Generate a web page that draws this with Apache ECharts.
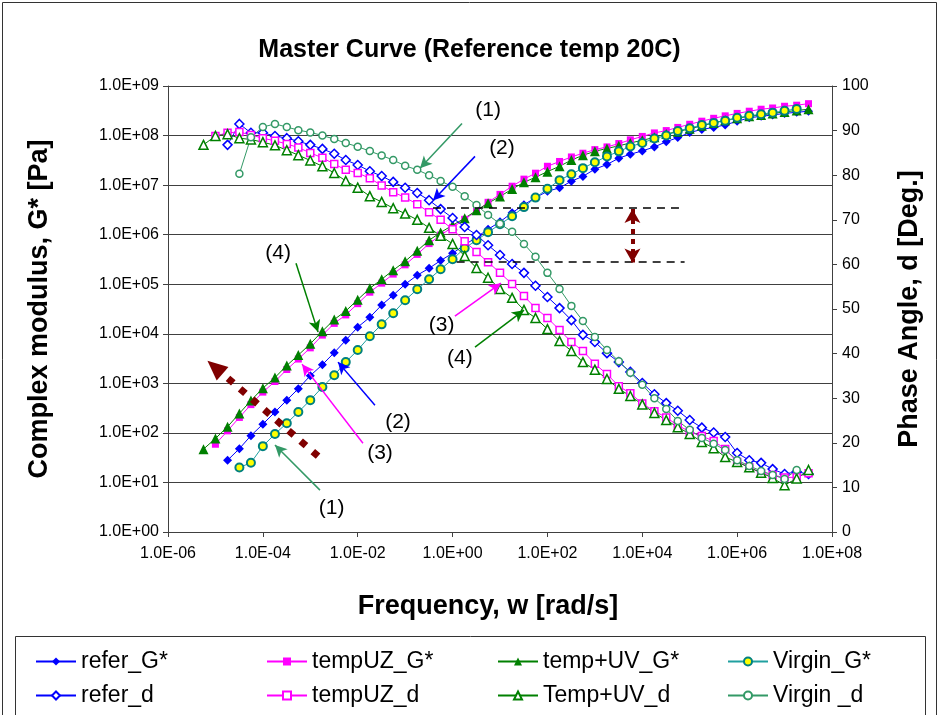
<!DOCTYPE html>
<html>
<head>
<meta charset="utf-8">
<title>Master Curve</title>
<script src="https://cdn.jsdelivr.net/npm/echarts@6/dist/echarts.min.js"></script>
<style>
  html, body { margin: 0; padding: 0; background: #fff; }
  #chart { width: 939px; height: 715px; }
</style>
</head>
<body>
<div id="chart"></div>
<script>
var FONT = 'Liberation Sans, Arial, sans-serif'

// frequency w [rad/s], quarter decade steps 10^-5.25 .. 10^7.5
var freq = [5.6e-6, 1.0e-5, 1.8e-5, 3.2e-5, 5.6e-5, 1.0e-4, 1.8e-4, 3.2e-4, 5.6e-4, 1.0e-3,
  1.8e-3, 3.2e-3, 5.6e-3, 1.0e-2, 1.8e-2, 3.2e-2, 5.6e-2, 0.1, 0.18, 0.32,
  0.56, 1, 1.8, 3.2, 5.6, 10, 18, 32, 56, 100,
  180, 320, 560, 1e3, 1.8e3, 3.2e3, 5.6e3, 1e4, 1.8e4, 3.2e4,
  5.6e4, 1e5, 1.8e5, 3.2e5, 5.6e5, 1e6, 1.8e6, 3.2e6, 5.6e6, 1e7,
  1.8e7, 3.2e7]

// complex modulus G* [Pa]
var referG = [null, null, 28, 48, 88, 150, 263, 458, 780, 1430,
  2380, 4160, 7400, 13600, 21500, 38000, 60000, 1.0e5, 1.52e5, 2.1e5,
  3.0e5, 4.22e5, 6.2e5, 8.9e5, 1.28e6, 1.82e6, 2.77e6, 4.0e6, 5.6e6, 7.5e6,
  8.8e6, 1.2e7, 1.5e7, 2.1e7, 2.6e7, 3.5e7, 4.2e7, 4.9e7, 5.9e7, 7.5e7,
  9.1e7, 1.15e8, 1.33e8, 1.46e8, 1.64e8, 1.94e8, 2.28e8, 2.45e8, 2.6e8, 2.8e8,
  2.95e8, 3.1e8]
var tempUZG = [null, 59, 110, 205, 372, 665, 1090, 1900, 3090, 5200,
  9400, 16200, 24000, 40500, 69000, 1.05e5, 1.6e5, 2.46e5, 4.0e5, 6.6e5,
  9.8e5, 1.41e6, 2.04e6, 3.0e6, 4.5e6, 6.5e6, 9.5e6, 1.32e7, 1.74e7, 2.4e7,
  3.0e7, 3.7e7, 4.4e7, 5.2e7, 5.9e7, 6.9e7, 8.2e7, 9.6e7, 1.13e8, 1.26e8,
  1.46e8, 1.69e8, 1.95e8, 2.23e8, 2.5e8, 2.8e8, 3.1e8, 3.4e8, 3.6e8, 3.9e8,
  4.1e8, 4.4e8]
var tempUVG = [47, 77, 133, 247, 448, 800, 1310, 2290, 3720, 6260,
  11300, 19400, 28800, 48700, 82600, 1.26e5, 1.92e5, 2.9e5, 4.73e5, 7.71e5,
  1.11e6, 1.55e6, 2.14e6, 3.1e6, 4.3e6, 5.9e6, 8.3e6, 1.14e7, 1.44e7, 1.87e7,
  2.4e7, 3.2e7, 4.0e7, 4.8e7, 5.5e7, 6.2e7, 7.1e7, 8.0e7, 9.2e7, 1.08e8,
  1.2e8, 1.37e8, 1.57e8, 1.8e8, 2.04e8, 2.23e8, 2.45e8, 2.6e8, 2.8e8, 3.0e8,
  3.2e8, 3.4e8]
var virginG = [null, null, null, 20, 25, 54, 95, 157, 263, 458,
  840, 1460, 2680, 4700, 8900, 15500, 26000, 47600, 79000, 1.26e5,
  2.0e5, 3.18e5, 5.35e5, 7.7e5, 1.12e6, 1.62e6, 2.35e6, 3.6e6, 5.6e6, 8.4e6,
  1.26e7, 1.66e7, 2.2e7, 2.9e7, 3.8e7, 4.8e7, 6.0e7, 7.1e7, 8.7e7, 1.0e8,
  1.24e8, 1.4e8, 1.64e8, 1.8e8, 2.0e8, 2.28e8, 2.5e8, 2.7e8, 2.9e8, 3.15e8,
  3.45e8, null]

// phase angle d [deg]
var referD = [null, null, 86.8, 91.5, 89.5, 89.5, 88.8, 88.3, 87.6, 86.8,
  85.9, 84.8, 83.4, 82.3, 80.9, 79.8, 78.5, 77.2, 76.0, 74.4,
  72.4, 70.4, 68.4, 66.6, 64.3, 62.1, 60.1, 58.1, 55.2, 52.7,
  50.2, 47.5, 44.2, 42.6, 40.1, 38.1, 35.9, 33.4, 30.9, 28.9,
  27.2, 25.1, 23.4, 22.3, 21.3, 17.7, 16.1, 15.5, 14.1, 13.0,
  13.5, 13.0]
var tempUZD = [null, 88.8, 89.5, 89.7, 89.0, 88.3, 87.7, 87.0, 86.2, 85.0,
  83.9, 82.5, 81.2, 80.5, 79.3, 77.7, 76.2, 75.0, 73.5, 71.7,
  70.0, 67.9, 65.2, 62.8, 60.5, 58.1, 55.6, 52.9, 50.2, 48.0,
  45.3, 42.6, 40.6, 37.7, 35.4, 32.7, 31.1, 28.8, 27.1, 25.7,
  23.9, 22.5, 21.5, 20.4, 18.6, 15.7, 14.5, 13.2, 12.8, 12.2,
  12.3, 13.2]
var tempUVD = [86.8, 88.8, 89.2, 88.3, 88.0, 87.4, 86.7, 85.6, 84.5, 83.3,
  82.0, 80.5, 78.7, 77.2, 75.3, 74.0, 72.6, 71.4, 70.0, 68.2,
  66.4, 64.6, 61.9, 59.2, 57.0, 54.5, 52.5, 49.8, 48.0, 45.5,
  42.8, 40.6, 38.1, 36.4, 34.3, 32.1, 30.5, 28.6, 26.7, 25.1,
  23.5, 22.0, 20.2, 18.8, 16.8, 15.7, 14.5, 13.3, 12.1, 10.5,
  12.0, 13.9]
var virginD = [null, null, null, 80.3, 88.5, 90.8, 91.5, 90.8, 90.1, 89.6,
  88.9, 88.1, 87.2, 86.4, 85.4, 84.4, 83.4, 82.1, 81.2, 80.0,
  78.7, 77.4, 75.3, 73.3, 71.1, 69.1, 67.3, 64.6, 61.7, 58.1,
  54.5, 50.7, 47.3, 43.7, 40.8, 38.3, 35.7, 33.0, 30.0, 27.6,
  24.9, 22.9, 21.1, 19.8, 18.4, 16.1, 14.8, 13.7, 12.8, 11.9,
  13.9, null]

// callouts on the G* scale: label, label at, line from, arrow tip
var callouts = [
  ['(1)', [5.6, 3.2e8], [1.58, 1.76e8], [0.206, 2.18e7], '#339966'],
  ['(2)', [11, 5.5e7], [2.97, 3.8e7], [0.386, 4.9e6], '#0000FF'],
  ['(4)', [2.1e-4, 4.2e5], [5.0e-4, 2.65e5], [1.46e-3, 1.08e4], '#008000'],
  ['(3)', [0.0295, 39], [0.0129, 62], [6.7e-4, 2440], '#FF00FF'],
  ['(2)', [0.0706, 167], [0.0231, 363], [3.84e-3, 2680], '#0000FF'],
  ['(1)', [2.82e-3, 3.0], [1.6e-3, 7.0], [1.8e-4, 57], '#339966'],
  ['(3)', [0.59, 1.49e4], [1.12, 2.26e4], [10.5, 1.05e5], '#FF00FF'],
  ['(4)', [1.43, 3180], [2.97, 5370], [32, 3.0e4], '#008000']
]
// dotted slope arrow (G* scale), dashed levels and gap arrow (phase scale)
var slopeArrow = [[1.46e-3, 34], [9.8e-6, 2120]]
var levelLines = [[[0.386, 72.7], [6.1e4, 72.7]], [[1.22, 60.5], [7.8e4, 60.5]]]
var gapArrow = [[6200, 72.4], [6200, 60.4]]

function pairs(vals) {
  var out = []
  for (var i = 0; i < freq.length; i++) {
    if (vals[i] != null) out.push([freq[i], vals[i]])
  }
  return out
}

function sci(v) {
  var e = Math.round(Math.log10(v))
  var a = Math.abs(e)
  return '1.0E' + (e < 0 ? '-' : '+') + (a < 10 ? '0' + a : a)
}

function curve(name, vals, axis, symbol, size, color, filled, lineColor) {
  return {
    name: name,
    type: 'line',
    yAxisIndex: axis,
    data: pairs(vals),
    symbol: symbol,
    symbolSize: size,
    showSymbol: true,
    showAllSymbol: true,
    lineStyle: { color: lineColor || color, width: 1 },
    itemStyle: filled
      ? { color: filled, borderColor: color, borderWidth: filled === color ? 0 : 2 }
      : { color: '#fff', borderColor: color, borderWidth: 1.5 }
  }
}

var chart = echarts.init(document.getElementById('chart'))

var legendCols = [
  ['refer_G*', 'refer_d'],
  ['tempUZ_G*', 'tempUZ_d'],
  ['temp+UV_G*', 'Temp+UV_d'],
  ['Virgin_G*', 'Virgin _d']
]
var legendLeft = [30, 261, 492, 722]

chart.setOption({
  animation: false,
  backgroundColor: '#fff',
  textStyle: { fontFamily: FONT },
  title: {
    text: 'Master Curve (Reference temp 20C)',
    left: 'center',
    top: 33,
    textStyle: { fontSize: 25, fontWeight: 'bold', color: '#000', fontFamily: FONT }
  },
  graphic: [
    { type: 'rect', silent: true, z: 0, shape: { x: 2.5, y: 2.5, width: 934, height: 720 }, style: { fill: 'none', stroke: '#333', lineWidth: 1 } },
    { type: 'rect', silent: true, z: 0, shape: { x: 15.5, y: 636.5, width: 910, height: 90 }, style: { fill: '#fff', stroke: '#333', lineWidth: 1 } }
  ],
  legend: legendCols.map(function(names, k) {
    return {
      data: names,
      orient: 'vertical',
      left: legendLeft[k],
      top: 645,
      itemGap: 11,
      itemWidth: 40,
      itemHeight: 10,
      selectedMode: false,
      textStyle: { fontSize: 23, color: '#000', fontFamily: FONT }
    }
  }),
  grid: { left: 168, right: 107, top: 86, bottom: 183 },
  xAxis: {
    type: 'log',
    logBase: 10,
    min: 1e-6,
    max: 1e8,
    interval: 2,
    name: 'Frequency, w [rad/s]',
    nameLocation: 'middle',
    nameGap: 61,
    nameTextStyle: { fontSize: 27, fontWeight: 'bold', color: '#000', padding: [0, 24, 0, 0] },
    axisLine: { lineStyle: { color: '#404040' } },
    axisTick: { length: 5, lineStyle: { color: '#404040' } },
    axisLabel: { formatter: sci, fontSize: 16, color: '#000', margin: 14 },
    splitLine: { show: false }
  },
  yAxis: [{
    type: 'log',
    logBase: 10,
    min: 1,
    max: 1e9,
    interval: 1,
    name: 'Complex modulus, G* [Pa]',
    nameLocation: 'middle',
    nameRotate: 90,
    nameGap: 115,
    nameTextStyle: { fontSize: 27, fontWeight: 'bold', color: '#000' },
    axisLine: { show: true, lineStyle: { color: '#404040' } },
    axisTick: { show: true, length: 5, lineStyle: { color: '#404040' } },
    axisLabel: { formatter: sci, fontSize: 16, color: '#000', margin: 9 },
    splitLine: { show: true, lineStyle: { color: '#404040', width: 1 } }
  }, {
    type: 'value',
    min: 0,
    max: 100,
    interval: 10,
    position: 'right',
    name: 'Phase Angle, d [Deg.]',
    nameLocation: 'middle',
    nameRotate: 90,
    nameGap: 64,
    nameTextStyle: { fontSize: 27, fontWeight: 'bold', color: '#000' },
    axisLine: { show: true, lineStyle: { color: '#404040' } },
    axisTick: { show: true, length: 5, lineStyle: { color: '#404040' } },
    axisLabel: { fontSize: 16, color: '#000', margin: 10 },
    splitLine: { show: false }
  }],
  series: [
    curve('refer_G*', referG, 0, 'diamond', 9, '#0000FF', '#0000FF'),
    curve('tempUZ_G*', tempUZG, 0, 'rect', 7, '#FF00FF', '#FF00FF'),
    curve('temp+UV_G*', tempUVG, 0, 'triangle', 10, '#008000', '#008000'),
    curve('Virgin_G*', virginG, 0, 'circle', 8, '#008080', '#FFFF00', '#20A0A0'),
    curve('refer_d', referD, 1, 'diamond', 9, '#0000FF'),
    curve('tempUZ_d', tempUZD, 1, 'rect', 7, '#FF00FF'),
    curve('Temp+UV_d', tempUVD, 1, 'triangle', 9, '#008000'),
    curve('Virgin _d', virginD, 1, 'circle', 7, '#339966'),
    {
      name: 'callouts',
      type: 'line',
      yAxisIndex: 0,
      data: [],
      silent: true,
      markLine: {
        silent: true,
        symbol: ['none', 'arrow'],
        symbolSize: [9, 12],
        label: { show: false },
        data: callouts.map(function(c) {
          return [{ coord: c[2], lineStyle: { color: c[4], width: 1.5, type: 'solid' } }, { coord: c[3] }]
        }).concat([[
          { coord: slopeArrow[0], symbol: 'none', symbolSize: 0, lineStyle: { color: '#800000', width: 7, type: [7, 9] } },
          { coord: slopeArrow[1], symbol: 'triangle', symbolSize: [18, 20] }
        ]])
      },
      markPoint: {
        silent: true,
        symbol: 'circle',
        symbolSize: 1,
        itemStyle: { color: 'rgba(0,0,0,0)' },
        label: { show: true, position: 'inside', color: '#000', fontSize: 21, fontFamily: FONT, formatter: '{b}' },
        data: callouts.map(function(c) { return { name: c[0], coord: c[1] } })
      }
    },
    {
      name: 'levels',
      type: 'line',
      yAxisIndex: 1,
      data: [],
      silent: true,
      markLine: {
        silent: true,
        symbol: ['none', 'none'],
        label: { show: false },
        data: levelLines.map(function(l) {
          return [{ coord: l[0], lineStyle: { color: '#000', width: 1.5, type: [8, 6] } }, { coord: l[1] }]
        }).concat([[
          { coord: gapArrow[0], symbol: 'arrow', symbolSize: [12, 14], lineStyle: { color: '#800000', width: 4, type: [5, 5] } },
          { coord: gapArrow[1], symbol: 'arrow', symbolSize: [12, 14] }
        ]])
      }
    }
  ]
})
</script>
</body>
</html>
